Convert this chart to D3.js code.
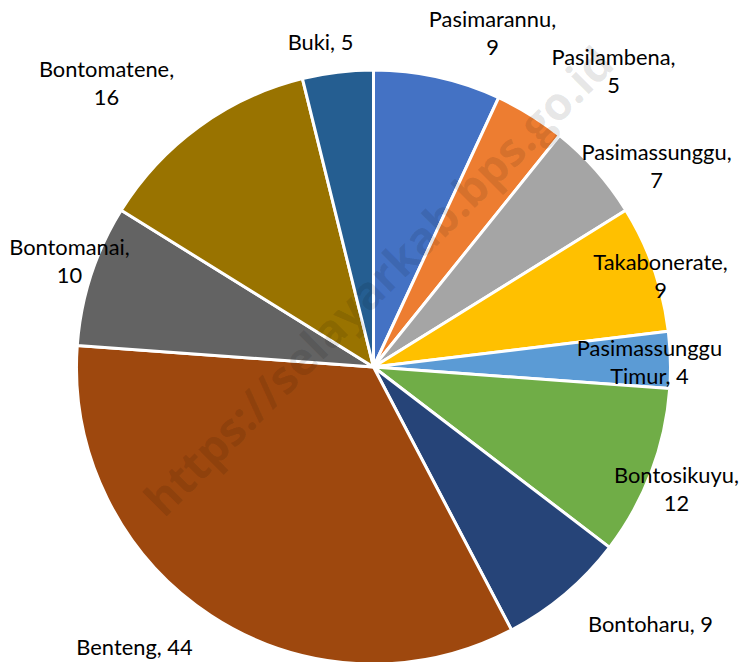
<!DOCTYPE html>
<html>
<head>
<meta charset="utf-8">
<script src="https://cdn.jsdelivr.net/npm/d3@7"></script>
<style>
  html, body { margin: 0; padding: 0; background: #fff; }
  svg { display: block; }
</style>
</head>
<body>
<svg id="chart" width="744" height="662"></svg>
<script>
// ---- data ----
const categories = ["Pasimarannu", "Pasilambena", "Pasimassunggu", "Takabonerate",
  "Pasimassunggu Timur", "Bontosikuyu", "Bontoharu", "Benteng", "Bontomanai",
  "Bontomatene", "Buki"];
const values = [9, 5, 7, 9, 4, 12, 9, 44, 10, 16, 5];
const colors = ["#4472C4", "#ED7D31", "#A5A5A5", "#FFC000", "#5B9BD5", "#70AD47",
  "#264478", "#9E480E", "#636363", "#997300", "#255E91"];
// label text lines (as shown in chart)
const labelLines = [
  ["Pasimarannu,", "9"], ["Pasilambena,", "5"], ["Pasimassunggu,", "7"],
  ["Takabonerate,", "9"], ["Pasimassunggu", "Timur, 4"], ["Bontosikuyu,", "12"],
  ["Bontoharu, 9"], ["Benteng, 44"], ["Bontomanai,", "10"], ["Bontomatene,", "16"],
  ["Buki, 5"]];
const watermarkText = "https://selayarkab.bps.go.id";

// ---- layout (not data) ----
const W = 744, H = 662;
const cx = 373.5, cy = 367, R = 297;
// label anchor: [dx of text centre, dy of first baseline] relative to pie centre
const labelOffsets = [
  [119, -340], [240, -302], [283, -207], [287, -97], [276, -11], [303, 116],
  [277, 265], [-239, 288], [-304, -112], [-267, -290], [-53, -317]];
const lineGap = 28;

const svg = d3.select("#chart");
const g = svg.append("g").attr("transform", `translate(${cx},${cy})`);

const pie = d3.pie().sort(null).value(d => d.v);
const arcs = pie(values.map((v, i) => ({v, i})));
const arc = d3.arc().innerRadius(0).outerRadius(R);

g.selectAll("path.slice").data(arcs).join("path")
  .attr("class", "slice")
  .attr("d", arc)
  .attr("fill", d => colors[d.data.i])
  .attr("stroke", "#fff")
  .attr("stroke-width", 3)
  .attr("stroke-linejoin", "round");

// font sizing: match measured width of reference text
const fontFamily = "Lato, 'Open Sans', sans-serif";
const probe = svg.append("text").attr("font-family", fontFamily).attr("font-size", 20)
  .text("Bontoharu, 9");
const pw = probe.node().getComputedTextLength();
probe.remove();
const fs = 20 * 125 / pw;

const lbl = g.selectAll("text.lbl").data(arcs).join("text")
  .attr("class", "lbl")
  .attr("font-family", fontFamily)
  .attr("font-size", fs)
  .attr("fill", "#000")
  .attr("text-anchor", "middle")
  .attr("x", d => labelOffsets[d.data.i][0])
  .attr("y", d => labelOffsets[d.data.i][1]);
lbl.each(function(d) {
  const t = d3.select(this);
  const off = labelOffsets[d.data.i];
  labelLines[d.data.i].forEach((ln, k) => {
    t.append("tspan").attr("x", off[0]).attr("y", off[1] + k * lineGap).text(ln);
  });
});

// watermark
const wm = svg.append("text")
  .attr("font-family", "'Open Sans', Lato, sans-serif")
  .attr("font-weight", "bold")
  .attr("font-size", 40)
  .attr("fill", "#000")
  .attr("fill-opacity", 0.1)
  .attr("text-anchor", "middle")
  .attr("dominant-baseline", "central")
  .text(watermarkText);
const ww = wm.node().getComputedTextLength();
wm.attr("font-size", 40 * 640 / ww)
  .attr("transform", `translate(${cx + 4},${cy - 87}) rotate(-45)`);
</script>
</body>
</html>
